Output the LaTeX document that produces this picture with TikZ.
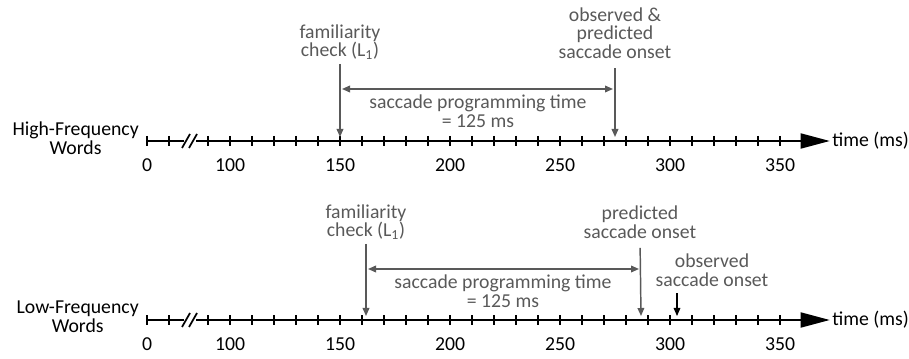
\documentclass[tikz,border=0pt]{standalone}
\usepackage{fontspec}
\setmainfont{Carlito}
\usetikzlibrary{arrows.meta}
\definecolor{ink}{HTML}{595959}

\begin{document}
\begin{tikzpicture}[x=0.75pt, y=-0.75pt, >={Triangle[length=6pt,width=5pt]},
    every node/.style={font=\fontsize{14.8}{13.9}\selectfont, inner sep=0pt},
    note/.style={text=ink, align=center},
    pointer/.style={ink, line width=1.1pt, ->},
    spanarrow/.style={ink, line width=1.1pt, <->},
    axisline/.style={line width=2.2pt},
    tickmark/.style={line width=0.8pt}]
  \useasboundingbox (0,0) rectangle (909,359);
  \foreach \yy/\rowname in {141/High, 320/Low}{
    \node[align=center, anchor=east] (\rowname-name) at (139,\yy-3) {\rowname-Frequency\\Words};
    \coordinate (\rowname-start) at (147,\yy);
    \coordinate (\rowname-end) at (830,\yy);
    \draw[axisline] (\rowname-start) -- (184,\yy);
    \draw[axisline, -{Triangle[length=22pt,width=11pt]}] (196,\yy) -- (\rowname-end);
    \draw[line width=1.3pt] (182,\yy+7) -- (190,\yy-7) (189,\yy+7) -- (197,\yy-7);
    \foreach \px in {147,169,208,230,...,780}
      \draw[tickmark] (\px,\yy-5) -- (\px,\yy+5);
    \foreach \v/\px in {0/147,100/230,150/340,200/450,250/560,300/670,350/780}
      \node (\rowname-\v) at (\px,\yy+24) {\v};
    \node[anchor=west] (\rowname-time) at (832,\yy) {time (ms)};
  }

  \node[note] (H-check) at (340,42) {familiarity\\check (L\textsubscript{1})};
  \node[note] (H-onset) at (615,33) {observed \&\\predicted\\saccade onset};
  \node[note] (H-prog) at (478,111) {saccade programming time\\= 125 ms};
  \coordinate (H-checkhit) at (340,137);
  \coordinate (H-onsethit) at (615,137);
  \coordinate (H-spanl) at (342,89);
  \coordinate (H-spanr) at (613,89);
  \draw[pointer, shorten <=3pt] (H-check.south) -- (H-checkhit);
  \draw[pointer, shorten <=7pt] (H-onset.south) -- (H-onsethit);
  \draw[spanarrow] (H-spanl) -- (H-spanr);

  \node[note] (L-check) at (366,222) {familiarity\\check (L\textsubscript{1})};
  \node[note] (L-predict) at (640,222) {predicted\\saccade onset};
  \node[note] (L-observed) at (712,270) {observed\\saccade onset};
  \node[note] (L-prog) at (503,291) {saccade programming time\\= 125 ms};
  \coordinate (L-checkhit) at (366,316);
  \coordinate (L-predicthit) at (641,316);
  \coordinate (L-observedhit) at (677,316);
  \coordinate (L-spanl) at (368,269);
  \coordinate (L-spanr) at (639,269);
  \draw[pointer, shorten <=3pt] (L-check.south) -- (L-checkhit);
  \draw[pointer, shorten <=7pt] (L-predict.south) -- (L-predicthit);
  \draw[pointer, black, line width=0.8pt, shorten <=5pt] (L-observed.south -| L-observedhit) -- (L-observedhit);
  \draw[spanarrow] (L-spanl) -- (L-spanr);
\end{tikzpicture}
\end{document}
